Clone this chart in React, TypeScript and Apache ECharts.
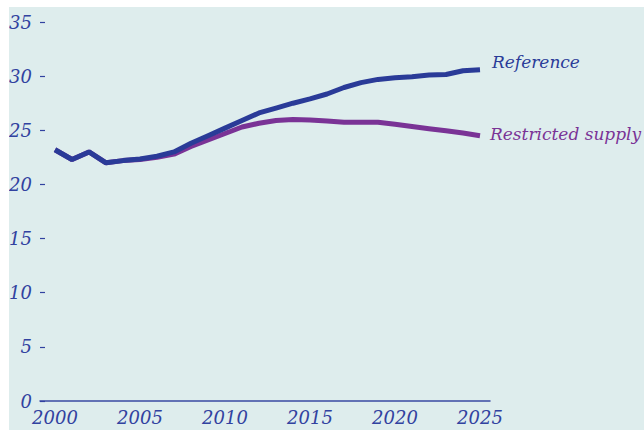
import React, { useEffect, useRef } from "react";
import * as echarts from "echarts";

const years = [2000, 2001, 2002, 2003, 2004, 2005, 2006, 2007, 2008, 2009, 2010, 2011, 2012, 2013, 2014, 2015, 2016, 2017, 2018, 2019, 2020, 2021, 2022, 2023, 2024, 2025];
const referenceValues = [23.2, 22.3, 23.0, 22.0, 22.2, 22.35, 22.6, 23.0, 23.8, 24.5, 25.2, 25.9, 26.6, 27.05, 27.5, 27.9, 28.35, 28.95, 29.4, 29.7, 29.85, 29.95, 30.1, 30.15, 30.5, 30.6];
const restrictedValues = [23.2, 22.3, 23.0, 22.0, 22.2, 22.3, 22.5, 22.8, 23.5, 24.1, 24.7, 25.3, 25.65, 25.9, 26.0, 25.95, 25.85, 25.75, 25.75, 25.75, 25.55, 25.35, 25.15, 24.95, 24.75, 24.5];
const xTickLabels = [2000, 2005, 2010, 2015, 2020, 2025];
const seriesNames = ["Reference", "Restricted supply"];

const BLUE = "#2a3b98";
const PURPLE = "#7a3396";
const TEXT = "#3142a0";
const FONT = "DejaVu Serif";

export default function App() {
  const ref = useRef<HTMLDivElement>(null);
  useEffect(() => {
    if (!ref.current) return;
    const chart = echarts.init(ref.current, undefined, { renderer: "svg" });
    const mk = (vals: number[]) => years.map((y, i) => [y, vals[i]]);
    chart.setOption({
      animation: false,
      backgroundColor: "#deeded",
      grid: { left: 31, width: 450, top: 15, height: 379, containLabel: false, outerBoundsMode: "none" },
      xAxis: {
        type: "value",
        min: 1999.118,
        max: 2025.588,
        splitLine: { show: false },
        axisLine: { show: true, lineStyle: { color: "#3a4aa2", width: 1.5 } },
        axisTick: { show: false },
        axisLabel: {
          customValues: xTickLabels,
          color: TEXT,
          fontFamily: FONT,
          fontStyle: "italic",
          fontSize: 18,
          margin: 7,
          formatter: (v: number) => String(Math.round(v)),
        },
      },
      yAxis: {
        type: "value",
        min: 0,
        max: 35,
        interval: 5,
        splitLine: { show: false },
        axisLine: { show: false },
        axisTick: { show: true, inside: true, length: 5, lineStyle: { color: TEXT, width: 1.2 } },
        axisLabel: {
          color: TEXT,
          fontFamily: FONT,
          fontStyle: "italic",
          fontSize: 18,
          margin: 8,
        },
      },
      series: [
        {
          name: seriesNames[1],
          type: "line",
          data: mk(restrictedValues),
          showSymbol: false,
          lineStyle: { color: PURPLE, width: 5 },
          endLabel: {
            show: true,
            formatter: seriesNames[1],
            color: PURPLE,
            fontFamily: FONT,
            fontStyle: "italic",
            fontSize: 17,
            distance: 10,
            offset: [0, -2],
          },
          z: 2,
        },
        {
          name: seriesNames[0],
          type: "line",
          data: mk(referenceValues),
          showSymbol: false,
          lineStyle: { color: BLUE, width: 5 },
          endLabel: {
            show: true,
            formatter: seriesNames[0],
            color: BLUE,
            fontFamily: FONT,
            fontStyle: "italic",
            fontSize: 17,
            distance: 12,
            offset: [0, -8],
          },
          z: 3,
        },
      ],
    });
    return () => chart.dispose();
  }, []);
  return (
    <div
      ref={ref}
      style={{ position: "absolute", left: 9, top: 7, width: 635, height: 423 }}
    />
  );
}
